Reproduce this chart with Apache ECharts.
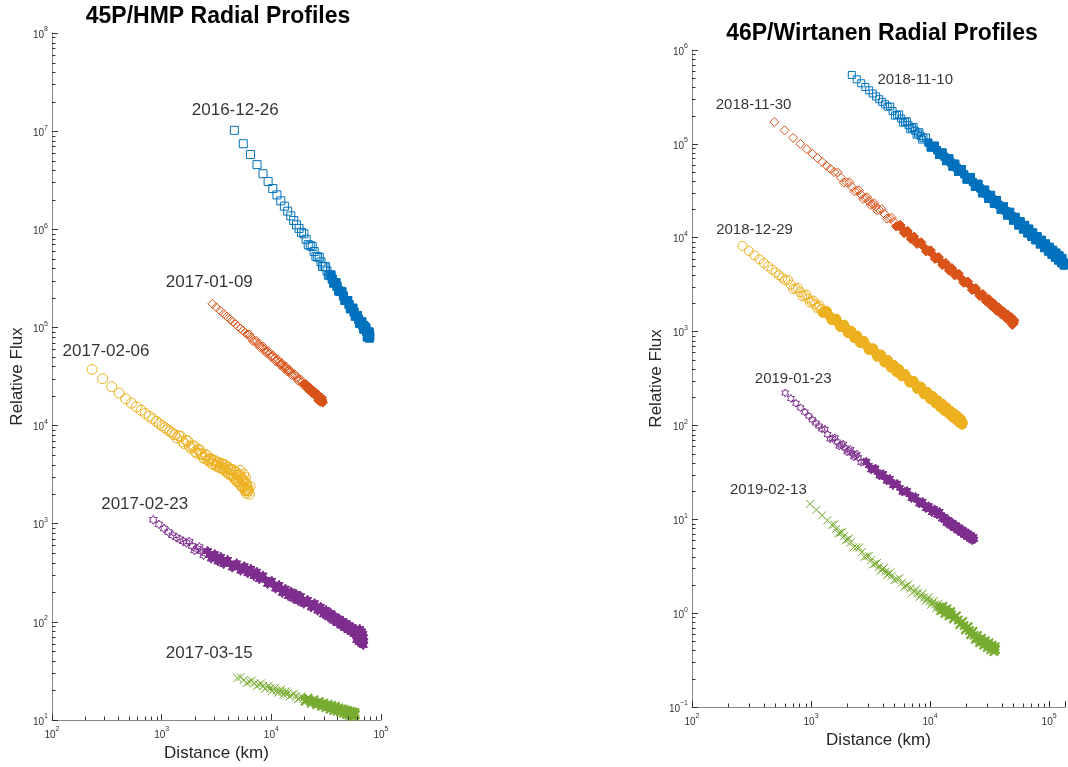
<!DOCTYPE html>
<html><head><meta charset="utf-8">
<script src="https://cdn.jsdelivr.net/npm/echarts@6/dist/echarts.min.js"></script>
<style>html,body{margin:0;padding:0;background:#fff}#c{width:1068px;height:767px}</style>
</head><body><div id="c"></div>
<script>
const FONT = '"Liberation Sans", Arial, Helvetica, sans-serif';

// ---------- 45P/HMP (left panel): [distance km, relative flux] ----------
const hmp20161226 = [[4600,1.02e7],[5550,7.45e6],[6450,5.77e6],[7400,4.56e6],[8400,3.68e6],[9350,3.07e6],[10300,2.60e6],[11250,2.24e6],[12200,1.95e6],[13150,1.72e6],[14100,1.53e6],[15050,1.37e6],[16000,1.23e6],[16950,1.11e6],[17900,1.02e6],[18850,9.31e5],[20750,7.91e5],[22650,6.81e5],[24550,5.94e5],[26450,5.24e5],[28350,4.65e5],[30250,4.17e5],[32150,3.76e5],[34050,3.41e5],[35950,3.11e5],[37850,2.85e5],[39750,2.62e5],[42600,2.33e5],[45450,2.09e5],[48300,1.88e5],[51150,1.71e5],[54000,1.56e5],[56850,1.43e5],[59700,1.31e5],[62550,1.21e5],[65400,1.12e5],[68250,1.05e5],[71100,9.75e4],[73950,9.12e4],[76800,8.55e4],[79000,8.15e4],[75000,8.0e4],[77500,9.0e4],[78500,7.8e4],[72500,9.9e4],[70000,1.04e5]];
const hmp20161226b = [[19800,9.0e5],[21700,6.97e5],[23600,6.68e5],[25500,5.30e5],[27400,5.18e5],[29300,4.18e5],[31200,4.16e5],[33100,3.40e5],[35000,3.42e5],[36900,2.83e5],[38800,2.87e5],[41200,2.35e5],[44000,2.32e5],[46900,1.88e5],[49700,1.88e5],[52600,1.55e5],[55400,1.57e5],[58300,1.30e5],[61100,1.32e5],[64000,1.10e5],[66800,1.14e5],[69700,9.6e4],[72500,9.9e4],[75400,8.4e4],[77900,8.77e4]];
const hmp20170109 = [[2900,1.74e5],[3160,1.60e5],[3420,1.48e5],[3680,1.38e5],[3940,1.29e5],[4200,1.21e5],[4460,1.14e5],[4720,1.08e5],[4980,1.02e5],[5240,9.74e4],[5500,9.29e4],[5760,8.87e4],[6020,8.50e4],[6540,7.83e4],[7060,7.27e4],[7580,6.79e4],[8100,6.36e4],[8620,5.98e4],[9140,5.65e4],[9660,5.35e4],[10180,5.09e4],[10700,4.84e4],[11220,4.62e4],[11740,4.42e4],[12260,4.24e4],[12780,4.07e4],[13300,3.91e4],[13820,3.77e4],[14340,3.64e4],[14860,3.51e4],[15900,3.29e4],[16940,3.09e4],[17980,2.92e4],[19020,2.76e4],[20060,2.62e4],[21100,2.49e4],[22140,2.38e4],[23180,2.27e4],[24220,2.18e4],[25260,2.09e4],[26300,2.01e4],[27340,1.94e4],[28380,1.87e4],[29200,1.82e4],[28000,1.75e4],[29500,1.72e4],[27000,1.80e4]];
const hmp20170109b = [[6280,8.49e4],[6800,7.24e4],[7320,7.31e4],[7840,6.31e4],[8360,6.41e4],[8880,5.58e4],[9400,5.72e4],[9920,5.01e4],[10440,5.16e4],[10960,4.54e4],[11480,4.70e4],[12000,4.16e4],[12520,4.32e4],[13040,3.83e4],[13560,3.99e4],[14080,3.55e4],[14600,3.71e4],[15380,3.26e4],[16420,3.32e4],[17460,2.88e4],[18500,2.95e4],[19540,2.58e4],[20580,2.65e4],[21620,2.33e4],[22660,2.41e4],[23700,2.13e4],[24740,2.22e4],[25780,1.97e4],[26820,2.05e4],[27860,1.83e4],[28790,1.92e4]];
const hmp20170206 = [[232,37300],[290,30000],[350,24900],[410,21400],[470,18700],[530,16900],[590,15500],[650,14300],[710,13300],[770,12400],[830,11700],[890,11000],[950,10500],[1010,9950],[1070,9500],[1130,9100],[1190,8730],[1250,8400],[1310,8090],[1430,7850],[1550,6870],[1670,7070],[1790,6180],[1910,6180],[2030,5420],[2150,5670],[2270,5170],[2390,4710],[2510,5060],[2630,4510],[2750,4600],[2870,4080],[2990,4450],[3110,4000],[3230,4190],[3350,3770],[3470,4110],[3590,3690],[3710,4020],[3830,3490],[3950,3750],[4070,3260],[4190,3610],[4310,3210],[4430,3510],[4550,2950],[4670,3390],[4790,2740],[4910,3110],[5030,2730],[5150,3150],[5270,2470],[5390,2780],[5510,2410],[5630,2760],[5750,2210],[5870,2530],[5990,2240],[6100,2320],[5200,3500],[5600,3200],[5900,2050],[6200,2150],[6400,2400],[6300,2000],[5800,2950]];
const hmp20170206b = [[1370,7490],[1490,7780],[1610,6550],[1730,6940],[1850,5870],[1970,6190],[2090,5210],[2210,5680],[2330,5080],[2450,4640],[2570,4970],[2690,4330],[2810,4590],[2930,4050],[3050,4350],[3170,3850],[3290,4210],[3410,3700],[3530,4050],[3650,3620],[3770,3970],[3890,3360],[4010,3780],[4130,3190],[4250,3600],[4370,3090],[4490,3540],[4610,2910],[4730,3350],[4850,2690],[4970,3140],[5090,2640],[5210,3010],[5330,2410],[5450,2850],[5570,2320],[5690,2670],[5810,2170],[5930,2500],[6050,2170]];
const hmp20170223 = [[840,1094],[945,984],[1050,895],[1155,822],[1260,762],[1365,723],[1470,691],[1575,662],[1680,637],[1890,593],[2100,555],[2310,525],[2520,503],[2730,483],[2940,466],[3150,451],[3360,436],[3570,424],[3780,411],[4200,392],[4620,376],[5040,363],[5460,351],[5880,340],[6300,330],[6720,321],[7140,310],[7560,298],[7980,288],[8820,269],[9660,253],[10500,240],[11340,228],[12180,217],[13020,208],[13860,200],[14700,194],[15540,188],[16380,183],[17220,178],[18060,173],[18900,169],[20580,161],[22260,154],[23940,148],[25620,143],[27300,137],[28980,131],[30660,126],[32340,121],[34020,117],[35700,113],[37380,109],[39060,106],[40740,103],[42420,99.5],[44100,96.8],[45780,94.2],[47460,91.8],[49140,89.5],[50820,87.3],[52500,85.3],[54180,83.4],[55860,81.5],[57540,79.8],[59220,78.2],[60900,76.6],[62580,75.1],[64260,73.7],[65940,72.3],[67620,71.0],[69300,69.8],[60000,65],[63000,62],[66000,60],[68000,62],[70000,64],[69000,58],[67000,80],[64000,85]];
const hmp20170223b = [[1785,658],[1995,534],[2205,578],[2415,478],[2625,527],[2835,441],[3045,490],[3255,412],[3465,460],[3675,388],[3990,429],[4410,357],[4830,395],[5250,332],[5670,369],[6090,312],[6510,348],[6930,293],[7350,325],[7770,272],[8400,297],[9240,243],[10080,263],[10920,218],[11760,238],[12600,197],[13440,218],[14280,183],[15120,204],[15960,172],[16800,193],[17640,163],[18480,183],[19740,153],[21420,168],[23100,140],[24780,155],[26460,130],[28140,143],[29820,119],[31500,132],[33180,111],[34860,123],[36540,103],[38220,114],[39900,96.7],[41580,108],[43260,91.2],[44940,102],[46620,86.5],[48300,96.9],[49980,82.2],[51660,92.3],[53340,78.4],[55020,88.2],[56700,75.0],[58380,84.5],[60060,72.0],[61740,81.1],[63420,69.2],[65100,78.1],[66780,66.6],[68460,75.3]];
const hmp20170315 = [[4900,26.8],[5600,25.5],[6300,24.5],[7000,23.6],[7700,22.9],[8400,22.2],[9100,21.6],[9800,21.0],[10500,20.5],[11200,20.1],[11900,19.7],[12600,19.3],[13300,18.9],[14000,18.6],[15400,18.0],[16800,17.4],[18200,16.9],[19600,16.5],[21000,16.1],[22400,15.8],[23800,15.5],[25200,15.1],[26600,14.9],[28000,14.6],[29400,14.4],[30800,14.1],[32200,13.9],[33600,13.7],[35000,13.5],[36400,13.3],[37800,13.2],[39200,13.0],[40600,12.8],[42000,12.7],[43400,12.5],[44800,12.4],[46200,12.3],[47600,12.1],[49000,12.0],[50400,11.9],[51800,11.8],[53200,11.7],[54600,11.6],[56000,11.5],[57400,11.4],[58500,11.3]];
const hmp20170315b = [[5250,27.4],[5950,23.8],[6650,25.2],[7350,22.1],[8050,23.6],[8750,20.8],[9450,22.4],[10150,19.7],[10850,21.3],[11550,18.9],[12250,20.5],[12950,18.1],[13650,19.7],[14700,17.4],[16100,18.6],[17500,16.3],[18900,17.5],[20300,15.5],[21700,16.7],[23100,14.8],[24500,16.1],[25900,14.3],[27300,15.4],[28700,13.8],[30100,14.9],[31500,13.3],[32900,14.5],[34300,12.9],[35700,14.1],[37100,12.5],[38500,13.8],[39900,12.3],[41300,13.3],[42700,12.0],[44100,13.0],[45500,11.7],[46900,12.8],[48300,11.4],[49700,12.5],[51100,11.2],[52500,12.3],[53900,11.0],[55300,12.1],[56700,10.9],[57900,11.9]];

// ---------- 46P/Wirtanen (right panel): [distance km, relative flux] ----------
const wir20181110 = [[2200,5.42e5],[2420,4.87e5],[2640,4.42e5],[2860,4.04e5],[3080,3.72e5],[3300,3.44e5],[3520,3.20e5],[3740,2.99e5],[3960,2.80e5],[4180,2.64e5],[4400,2.49e5],[4840,2.24e5],[5280,2.03e5],[5720,1.86e5],[6160,1.71e5],[6600,1.58e5],[7040,1.47e5],[7480,1.38e5],[7920,1.29e5],[8360,1.21e5],[8800,1.15e5],[9680,1.03e5],[10560,9.35e4],[11440,8.55e4],[12320,7.87e4],[13200,7.28e4],[14080,6.78e4],[14960,6.33e4],[15840,5.93e4],[16720,5.58e4],[17600,5.27e4],[19360,4.74e4],[21120,4.30e4],[22880,3.93e4],[24640,3.62e4],[26400,3.35e4],[28160,3.11e4],[29920,2.91e4],[31680,2.73e4],[33440,2.57e4],[35200,2.43e4],[37840,2.24e4],[40480,2.07e4],[43120,1.93e4],[45760,1.81e4],[48400,1.70e4],[51040,1.60e4],[53680,1.51e4],[56320,1.43e4],[58960,1.36e4],[61600,1.30e4],[64240,1.24e4],[66880,1.18e4],[69520,1.13e4],[72160,1.09e4],[74800,1.04e4],[78320,9910],[81840,9430],[85360,9000],[88880,8600],[92400,8230],[95920,7890],[99440,7580],[102960,7290],[106480,7020],[110000,6770],[113520,6540],[117040,6320],[120560,6110],[124080,5920],[127600,5730],[131120,5560],[134640,5400]];
const wir20181110b = [[4620,2.50e5],[5060,2.00e5],[5500,2.06e5],[5940,1.68e5],[6380,1.74e5],[6820,1.43e5],[7260,1.51e5],[7700,1.25e5],[8140,1.33e5],[8580,1.11e5],[9240,1.17e5],[10120,9.12e4],[11000,9.57e4],[11880,7.63e4],[12760,8.10e4],[13640,6.54e4],[14520,7.01e4],[15400,5.70e4],[16280,6.15e4],[17160,5.04e4],[18480,5.40e4],[20240,4.15e4],[22000,4.44e4],[23760,3.47e4],[25520,3.76e4],[27280,2.97e4],[29040,3.25e4],[30800,2.59e4],[32560,2.86e4],[34320,2.30e4],[36520,2.52e4],[39160,1.98e4],[41800,2.16e4],[44440,1.72e4],[47080,1.89e4],[49720,1.52e4],[52360,1.67e4],[55000,1.35e4],[57640,1.50e4],[60280,1.22e4],[62920,1.37e4],[65560,1.11e4],[68200,1.25e4],[70840,1.02e4],[73480,1.14e4],[76560,9380],[80080,10400],[83600,8470],[87120,9500],[90640,7740],[94160,8700],[97680,7110],[101200,8020],[104720,6580],[108240,7440],[111760,6120],[115280,6940],[118800,5710],[122320,6490],[125840,5350],[129360,6090],[132880,5040]];
const wir20181130 = [[492,1.71e5],[600,1.39e5],[707,1.16e5],[814,1.00e5],[921,8.79e4],[1028,7.82e4],[1135,7.05e4],[1242,6.40e4],[1349,5.86e4],[1456,5.41e4],[1563,5.01e4],[1777,4.38e4],[1991,3.88e4],[2205,3.48e4],[2419,3.16e4],[2633,2.88e4],[2847,2.65e4],[3061,2.46e4],[3275,2.29e4],[3489,2.14e4],[3703,2.01e4],[4131,1.79e4],[4559,1.61e4],[4987,1.47e4],[5415,1.34e4],[5843,1.24e4],[6271,1.15e4],[6699,1.07e4],[7127,1.00e4],[7555,9420],[7983,8890],[8839,7980],[9695,7240],[10551,6620],[11407,6090],[12263,5640],[13119,5250],[13975,4910],[14831,4610],[15687,4340],[16543,4110],[18255,3700],[19967,3360],[21679,3080],[23391,2840],[25103,2640],[26815,2460],[28527,2300],[30239,2160],[31951,2040],[33663,1930],[35375,1830],[37087,1740],[38799,1660],[40511,1590],[42223,1520],[43935,1460],[45647,1400],[47359,1350],[49071,1300],[50783,1250],[49000,1180],[51000,1320],[48000,1420],[50000,1200]];
const wir20181130b = [[1670,4.96e4],[1884,3.87e4],[2098,3.89e4],[2312,3.12e4],[2526,3.20e4],[2740,2.59e4],[2954,2.70e4],[3168,2.23e4],[3382,2.34e4],[3596,1.95e4],[3917,2.01e4],[4345,1.60e4],[4773,1.63e4],[5201,1.32e4],[5629,1.37e4],[6057,1.12e4],[6485,1.18e4],[6913,9700],[7341,10300],[7769,8600],[8411,8930],[9267,7150],[10123,7340],[10979,5970],[11835,6210],[12691,5110],[13547,5380],[14403,4470],[15259,4740],[16115,3970],[17399,4130],[19111,3320],[20823,3410],[22535,2780],[24247,2900],[25959,2400],[27671,2520],[29383,2100],[31095,2230],[32807,1860],[34519,1990],[36231,1670],[37943,1800],[39655,1530],[41367,1640],[43079,1400],[44791,1520],[46503,1290],[48215,1400],[49927,1200]];
const wir20181229 = [[266,8180],[300,7240],[334,6490],[368,5880],[402,5380],[436,4950],[470,4580],[504,4270],[538,3990],[572,3750],[606,3540],[674,3170],[742,2880],[810,2630],[878,2430],[946,2250],[1014,2090],[1082,1960],[1150,1840],[1218,1740],[1286,1640],[1422,1480],[1558,1350],[1694,1240],[1830,1150],[1966,1070],[2102,996],[2238,934],[2374,880],[2510,831],[2646,788],[2918,713],[3190,651],[3462,599],[3734,555],[4006,517],[4278,483],[4550,453],[4822,428],[5094,404],[5366,383],[5638,365],[5910,347],[6454,318],[6998,292],[7542,271],[8086,252],[8630,236],[9174,222],[9718,209],[10262,198],[10806,188],[11350,179],[11894,170],[12438,163],[12982,156],[13526,149],[14070,144],[14614,138],[15158,133],[15702,128],[16246,124],[16790,120],[17334,116],[17878,112],[18422,109],[18800,107]];
const wir20181229b = [[640,3550],[708,2840],[776,2920],[844,2380],[912,2480],[980,2040],[1048,2140],[1116,1790],[1184,1900],[1252,1590],[1354,1650],[1490,1330],[1626,1370],[1762,1120],[1898,1180],[2034,968],[2170,1020],[2306,853],[2442,906],[2578,760],[2782,795],[3054,640],[3326,661],[3598,542],[3870,568],[4142,470],[4414,496],[4686,414],[4958,441],[5230,369],[5502,396],[5774,335],[6182,352],[6726,287],[7270,298],[7814,245],[8358,259],[8902,215],[9446,228],[9990,191],[10534,205],[11078,172],[11622,184],[12166,156],[12710,169],[13254,143],[13798,155],[14342,133],[14886,143],[15430,122],[15974,134],[16518,115],[17062,125],[17606,107],[18150,117],[18611,102]];
const wir20190123 = [[607,222],[677,194],[747,172],[817,154],[887,139],[957,126],[1027,115],[1097,106],[1167,98.4],[1237,91.6],[1377,80.2],[1517,72.6],[1657,66.7],[1797,61.8],[1937,57.5],[2077,53.8],[2217,50.7],[2357,47.8],[2497,45.3],[2777,40.9],[3057,37.4],[3337,34.4],[3617,31.8],[3897,29.8],[4177,28.0],[4457,26.4],[4737,25.0],[5017,23.8],[5577,21.6],[6137,19.9],[6697,18.4],[7257,17.1],[7817,16.0],[8377,15.0],[8937,14.2],[9497,13.4],[10057,12.8],[10617,12.3],[11177,12.0],[11737,11.7],[12297,11.1],[12857,10.4],[13417,9.86],[13977,9.52],[14537,9.19],[15097,8.89],[15657,8.61],[16217,8.35],[16777,8.11],[17337,7.89],[17897,7.68],[18457,7.48],[19017,7.29],[19577,7.12],[20137,6.95],[20697,6.79],[21257,6.64],[21817,6.50],[22377,6.36],[22937,6.22],[23500,6.10]];
const wir20190123b = [[1307,90.8],[1447,71.7],[1587,73.8],[1727,60.3],[1867,63.2],[2007,52.3],[2147,55.3],[2287,46.2],[2427,49.3],[2637,40.4],[2917,41.4],[3197,33.7],[3477,35.1],[3757,29.0],[4037,30.6],[4317,25.6],[4597,27.2],[4877,22.9],[5297,24.1],[5857,19.5],[6417,20.2],[6977,16.7],[7537,17.5],[8097,14.6],[8657,15.5],[9217,13.0],[9777,13.9],[10337,11.8],[10897,12.9],[11457,11.1],[12017,12.1],[12577,10.1],[13137,10.7],[13697,9.11],[14257,9.91],[14817,8.50],[15377,9.28],[15937,7.97],[16497,8.72],[17057,7.52],[17617,8.25],[18177,7.13],[18737,7.82],[19297,6.77],[19857,7.45],[20417,6.46],[20977,7.11],[21537,6.18],[22097,6.82],[22657,5.91],[23218,6.53]];
const wir20190213 = [[981,14.6],[1110,12.6],[1240,11.0],[1370,9.75],[1500,8.73],[1630,7.89],[1760,7.19],[1890,6.59],[2020,6.10],[2150,5.69],[2410,5.01],[2670,4.47],[2930,4.03],[3190,3.66],[3450,3.36],[3710,3.10],[3970,2.93],[4230,2.77],[4490,2.63],[4750,2.50],[5270,2.29],[5790,2.11],[6310,1.96],[6830,1.83],[7350,1.72],[7870,1.63],[8390,1.55],[8910,1.47],[9430,1.41],[9950,1.35],[10470,1.29],[10990,1.24],[11510,1.20],[12030,1.16],[12550,1.12],[13070,1.08],[13590,1.05],[14110,1.02],[14630,0.986],[15150,0.959],[16190,0.910],[17230,0.843],[18270,0.787],[19310,0.736],[20350,0.691],[21390,0.651],[22430,0.615],[23470,0.582],[24510,0.553],[25550,0.530],[26590,0.513],[27630,0.498],[28670,0.483],[29710,0.470],[30750,0.457],[31790,0.445],[32830,0.434],[33870,0.423],[34910,0.413],[35500,0.407]];
const wir20190213b = [[1565,8.80],[1695,7.08],[1825,7.29],[1955,5.96],[2085,6.24],[2280,5.02],[2540,5.01],[2800,3.99],[3060,4.07],[3320,3.30],[3580,3.42],[3840,2.83],[4100,3.02],[4360,2.54],[4620,2.71],[5010,2.25],[5530,2.35],[6050,1.89],[6570,2.02],[7090,1.65],[7610,1.79],[8130,1.48],[8650,1.62],[9170,1.34],[9690,1.48],[10210,1.23],[10730,1.35],[11250,1.13],[11770,1.26],[12290,1.06],[12810,1.18],[13330,0.99],[13850,1.11],[14370,0.933],[14890,1.04],[15670,0.869],[16710,0.937],[17750,0.758],[18790,0.814],[19830,0.663],[20870,0.718],[21910,0.589],[22950,0.640],[23990,0.527],[25030,0.579],[26070,0.485],[27110,0.540],[28150,0.456],[29190,0.509],[30230,0.431],[31270,0.483],[32310,0.408],[33350,0.458],[34390,0.389],[35200,0.439]];

// distance (km) beyond which the overlapping markers merge into a solid band (null = never)
const hmpSolidFrom = [35000, 20000, null, 2600, 20000];
const wirSolidFrom = [9500, 5100, 1230, 2880, 12000];

// date labels: [text, distance, flux] anchor of label centre
const hmpLabels = [['2016-12-26',4690,1.62e7],['2017-01-09',2720,2.85e5],['2017-02-06',311,5.69e4],['2017-02-23',700,1560],['2017-03-15',2720,48.0]];
const wirLabels = [['2018-11-10',7500,4.80e5],['2018-11-30',329,2.59e5],['2018-12-29',335,1.21e4],['2019-01-23',708,313],['2019-02-13',438,20.6]];

// minor tick mantissas and decades
const minorMant = [2,3,4,5,6,7,8,9];
const hmpXDecades = [100,1000,10000];
const hmpYDecades = [10,100,1000,1e4,1e5,1e6,1e7];
const wirXDecades = [100,1000,10000];
const wirYDecades = [0.1,1,10,100,1000,1e4,1e5];

const COLORS = ['#0072BD','#D95319','#EDB120','#7E2F8E','#77AC30'];
const HEX = 'path://M50,0L64.4,25L93.3,25L78.9,50L93.3,75L64.4,75L50,100L35.6,75L6.7,75L21.1,50L6.7,25L35.6,25Z';
const XMARK = 'path://M0,0L10,10M0,10L10,0';

function expFmt(v){
  const l = Math.log10(v), r = Math.round(l);
  if (Math.abs(l-r) > 0.01) return '';
  return '{b|10}{s|' + (r < 0 ? '\u2212' + (-r) : r) + '}';
}
const labelRich = {
  b:{fontSize:10, fontFamily:FONT, color:'#333', lineHeight:14, verticalAlign:'bottom'},
  s:{fontSize:7, fontFamily:FONT, color:'#333', lineHeight:8, verticalAlign:'top'}
};
function axis(gi, min, max, isX, name, gap){
  return {
    type:'log', logBase:10, gridIndex:gi, min:min, max:max,
    axisLine:{show:true, lineStyle:{color:'#8a8a8a', width:1}},
    axisTick:{show:true, inside:true, length:6, lineStyle:{color:'#333'}},
    axisLabel:{formatter:expFmt, rich:labelRich, margin:isX?6:4, showMaxLabel:true, showMinLabel:true},
    splitLine:{show:false},
    name:name, nameLocation:'middle', nameGap:gap,
    nameTextStyle:{fontSize:17, fontFamily:FONT, color:'#262626'}
  };
}
function hollow(data, symbol, size, color, gi){
  return {type:'scatter', xAxisIndex:gi, yAxisIndex:gi, data:data, symbol:symbol,
    symbolSize:size, symbolKeepAspect:true, silent:true, animation:false, large:false,
    itemStyle:{color:'rgba(0,0,0,0)', borderColor:color, borderWidth:1, opacity:1}};
}
function solid(data, from, symbol, size, color, gi){
  return {type:'scatter', xAxisIndex:gi, yAxisIndex:gi,
    data: from == null ? [] : data.filter(d => d[0] >= from), symbol:symbol,
    symbolSize:size, symbolKeepAspect:true, silent:true, animation:false, large:false,
    itemStyle:{color:color, borderColor:color, borderWidth:symbol === XMARK ? 2.2 : 1, opacity:1}};
}
function profile(main, extra, from, symbol, size, color, gi){
  const all = main.concat(extra);
  return [solid(all, from, symbol, size, color, gi), hollow(all, symbol, size, color, gi)];
}
function minorTicks(gi, isX, decades, other){
  const vals = [];
  decades.forEach(d => minorMant.forEach(m => vals.push(m*d)));
  return {type:'custom', xAxisIndex:gi, yAxisIndex:gi, silent:true, z:5, clip:false, animation:false,
    data: vals.map(v => isX ? [v, other] : [other, v]),
    renderItem: function(params, api){
      const p = api.coord([api.value(0), api.value(1)]);
      const L = 3.5;
      if (isX) {
        const x = Math.round(p[0]) + 0.5;
        return {type:'line', shape:{x1:x, y1:p[1], x2:x, y2:p[1]-L}, style:{stroke:'#333', lineWidth:1}};
      }
      const y = Math.round(p[1]) + 0.5;
      return {type:'line', shape:{x1:p[0], y1:y, x2:p[0]+L, y2:y}, style:{stroke:'#333', lineWidth:1}};
    }};
}
function labels(list, gi, size){
  return {type:'scatter', xAxisIndex:gi, yAxisIndex:gi, symbolSize:1, silent:true, animation:false,
    itemStyle:{color:'rgba(0,0,0,0)'},
    data:list.map(l => ({name:l[0], value:[l[1], l[2]]})),
    label:{show:true, position:'inside', formatter:'{b}', fontSize:size, fontFamily:FONT, color:'#000'}};
}

const chart = echarts.init(document.getElementById('c'), null, {renderer:'canvas'});
chart.setOption({
  animation:false,
  backgroundColor:'#fff',
  grid:[
    {left:52, top:33, width:329, height:690},
    {left:692, top:50, width:376, height:657}
  ],
  xAxis:[
    axis(0, 100, 1e5, true, 'Distance (km)', 25),
    axis(1, 100, 136000, true, 'Distance (km)', 23)
  ],
  yAxis:[
    axis(0, 10, 1e8, false, 'Relative Flux', 26),
    axis(1, 0.1, 1e6, false, 'Relative Flux', 27)
  ],
  graphic:[
    {type:'text', x:218, y:17, style:{text:'45P/HMP Radial Profiles', font:'bold 23px ' + FONT, fill:'#000', textAlign:'center', textVerticalAlign:'middle'}},
    {type:'text', x:882, y:34, style:{text:'46P/Wirtanen Radial Profiles', font:'bold 23px ' + FONT, fill:'#000', textAlign:'center', textVerticalAlign:'middle'}}
  ],
  series:[].concat(
    profile(hmp20161226, hmp20161226b, hmpSolidFrom[0], 'rect', 8, COLORS[0], 0),
    profile(hmp20170109, hmp20170109b, hmpSolidFrom[1], 'diamond', 9, COLORS[1], 0),
    profile(hmp20170206, hmp20170206b, hmpSolidFrom[2], 'circle', 10, COLORS[2], 0),
    profile(hmp20170223, hmp20170223b, hmpSolidFrom[3], HEX, 9, COLORS[3], 0),
    profile(hmp20170315, hmp20170315b, hmpSolidFrom[4], XMARK, 8, COLORS[4], 0),
    profile(wir20181110, wir20181110b, wirSolidFrom[0], 'rect', 7, COLORS[0], 1),
    profile(wir20181130, wir20181130b, wirSolidFrom[1], 'diamond', 9, COLORS[1], 1),
    profile(wir20181229, wir20181229b, wirSolidFrom[2], 'circle', 9, COLORS[2], 1),
    profile(wir20190123, wir20190123b, wirSolidFrom[3], HEX, 8, COLORS[3], 1),
    profile(wir20190213, wir20190213b, wirSolidFrom[4], XMARK, 8, COLORS[4], 1),
    [
      minorTicks(0, true, hmpXDecades, 10),
      minorTicks(0, false, hmpYDecades, 100),
      minorTicks(1, true, wirXDecades, 0.1),
      minorTicks(1, false, wirYDecades, 100),
      labels(hmpLabels, 0, 17),
      labels(wirLabels, 1, 15)
    ]
  )
});
</script></body></html>
